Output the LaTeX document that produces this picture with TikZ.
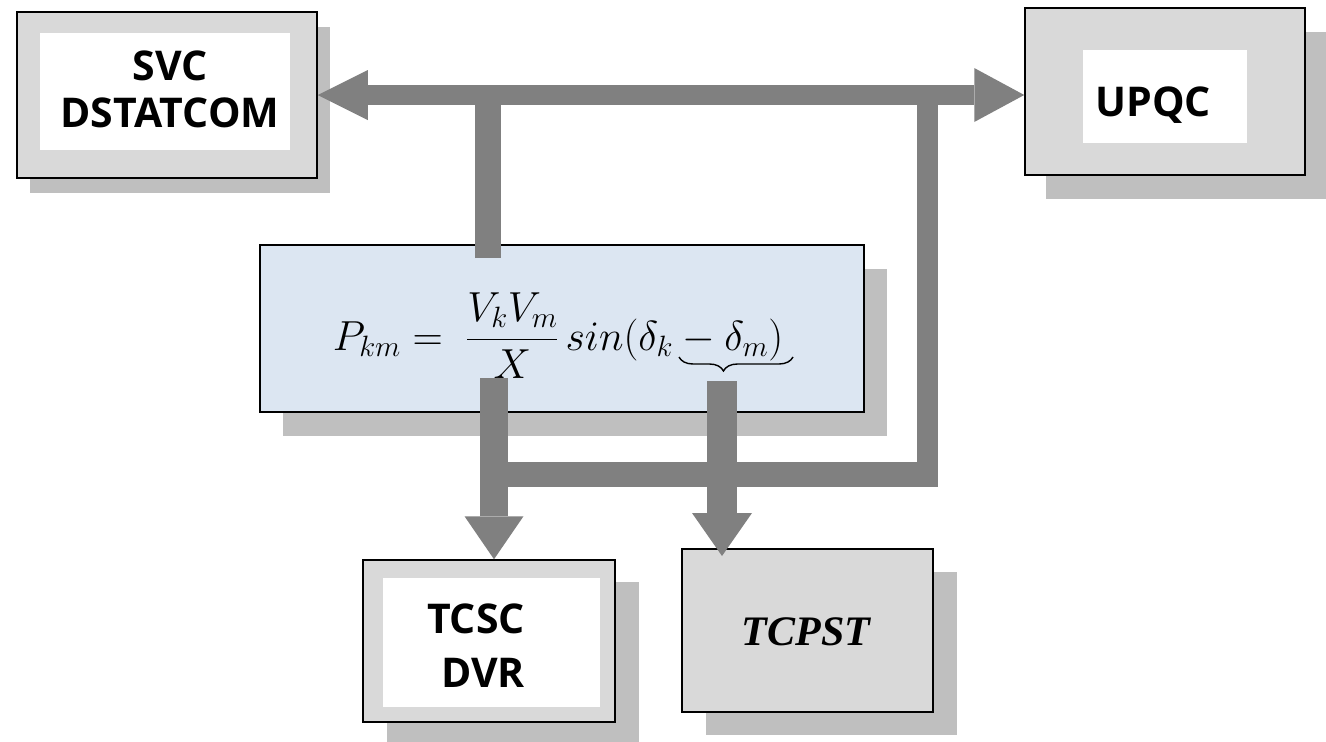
\RequirePackage{fix-cm}
\documentclass[tikz,border=0pt]{standalone}
\usepackage{amsmath}
\usepackage{fontspec}
\newfontfamily\osans{Open Sans}
\newfontfamily\tserif{Liberation Serif}
\usetikzlibrary{arrows.meta,shadows,decorations.pathreplacing}
\definecolor{boxgray}{HTML}{D9D9D9}
\definecolor{shgray}{HTML}{BFBFBF}
\definecolor{arrgray}{HTML}{808080}
\definecolor{fmlblue}{HTML}{DCE6F2}
\begin{document}
\begin{tikzpicture}[x=1pt,y=-1pt,
  box/.style={draw=black, line width=1.5pt, fill=boxgray, inner sep=0pt},
  wbox/.style={fill=white, draw=none, inner sep=0pt},
  sh/.style 2 args={general shadow={fill=shgray, shadow xshift=#1, shadow yshift=#2}},
  lbl/.style={font=\osans\bfseries\fontsize{41}{#1}\selectfont, align=center, inner sep=0pt},
  lbl/.default=54,
  bar/.style={draw=arrgray, line width=#1}
]
\useasboundingbox (0,0) rectangle (1326,742);
\fill[white] (0,0) rectangle (1326,742);

% SVC / DSTATCOM
\node[box, sh={13pt}{-15pt}, minimum width=300pt, minimum height=166pt] (svc) at (167,95) {};
\node[wbox, minimum width=250pt, minimum height=117pt] (svcin) at (165,91.5) {};
\node[lbl=47] (svct) at (170,89) {SVC\\DSTATCOM};

% UPQC
\node[box, sh={21pt}{-24pt}, minimum width=280pt, minimum height=167pt] (upqc) at (1165,91.5) {};
\node[wbox, minimum width=164pt, minimum height=93pt] (upqcin) at (1165,96.5) {};
\node[lbl] (upqct) at (1153,105) {UPQC};

% formula
\node[box, fill=fmlblue, sh={23pt}{-24pt}, minimum width=604pt, minimum height=167pt] (fml) at (562,328.5) {};
\node[anchor=base, inner sep=0pt, font=\fontsize{42}{50}\selectfont] (eq) at (558,350)
  {$P_{km} =\;\dfrac{V_kV_m}{X}\,sin(\delta_k - \delta_m)$};
\draw[decorate, decoration={brace, mirror, amplitude=14pt, aspect=0.39}, line width=1.4pt]
  (679,357) -- (793,357);

% TCSC / DVR
\node[box, sh={24pt}{-22pt}, minimum width=252pt, minimum height=162pt] (tcsc) at (489,641) {};
\node[wbox, minimum width=217pt, minimum height=129pt] (tcscin) at (491.5,642.5) {};
\node[lbl, align=right, anchor=east] (tcsct) at (525,646) {TCSC\\DVR};

% TCPST
\node[box, sh={24pt}{-23pt}, minimum width=251pt, minimum height=163pt] (tcpst) at (807.5,630.5) {};
\node[inner sep=0pt, font=\tserif\bfseries\itshape\fontsize{42}{50}\selectfont] (tcpstt) at (806,632) {TCPST};

% connectors
\coordinate (jlt) at (488,85);
\coordinate (fa) at (488,258);
\coordinate (jrt) at (927.5,85);
\coordinate (jrb) at (927.5,487);
\coordinate (bl) at (494,474.5);
\coordinate (br) at (938,474.5);
\coordinate (fb) at (494,378);
\coordinate (fc) at (722,381);
\coordinate (tc) at (722,556);

\draw[bar=20pt, {Triangle[length=50pt,width=50pt,line width=0pt]}-{Triangle[length=50pt,width=54pt,line width=0pt]}]
  (svc.east) -- (upqc.west |- svc.east);
\draw[bar=26pt] (fa) -- (jlt);
\draw[bar=21pt] (jrt) -- (jrb);
\draw[bar=25pt] (bl) -- (br);
\draw[bar=28pt, -{Triangle[length=43pt,width=59pt,line width=0pt]}] (fb) -- (fb |- tcsc.north);
\draw[bar=30pt, -{Triangle[length=43pt,width=60pt,line width=0pt]}] (fc) -- (tc);
\end{tikzpicture}
\end{document}
